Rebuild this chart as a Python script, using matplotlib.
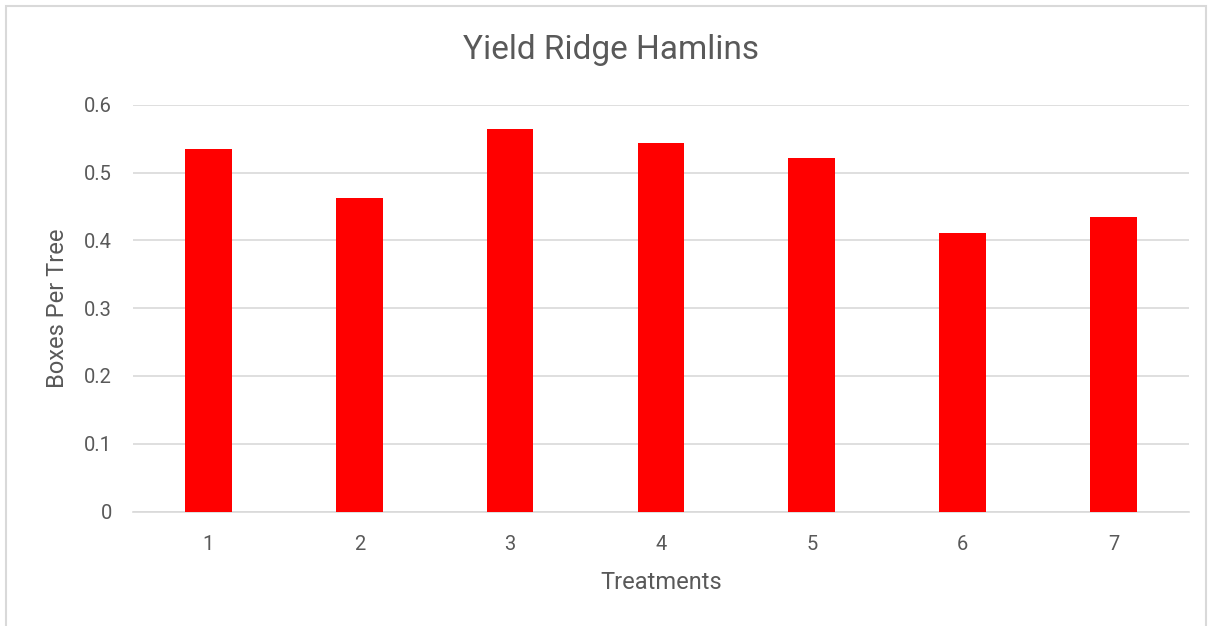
import matplotlib
matplotlib.use("Agg")
import matplotlib.pyplot as plt
from matplotlib.patches import Rectangle

treatments = ["1", "2", "3", "4", "5", "6", "7"]
boxes_per_tree = [0.535, 0.462, 0.564, 0.544, 0.522, 0.411, 0.435]
y_ticks = [0, 0.1, 0.2, 0.3, 0.4, 0.5, 0.6]

plt.rcParams['font.family'] = ['Roboto', 'DejaVu Sans']
text_color = '#595959'
grid_color = '#d9d9d9'

fig = plt.figure(figsize=(12.1, 6.26), dpi=100)
ax = fig.add_axes([0.1099, 0.1829, 0.8727, 0.6494])

x = range(len(treatments))
ax.bar(x, boxes_per_tree, width=0.31, color='#ff0000', zorder=3)

ax.set_xlim(-0.5, len(treatments) - 0.5)
ax.set_ylim(0, 0.6)
ax.set_yticks(y_ticks)
ax.set_yticklabels([f"{t:g}" for t in y_ticks])
ax.set_xticks(list(x))
ax.set_xticklabels(treatments)
ax.tick_params(axis='both', length=0, colors=text_color, labelsize=14.5)
ax.tick_params(axis='y', pad=15)
ax.tick_params(axis='x', pad=17)

ax.grid(axis='y', color=grid_color, linewidth=1.2, zorder=0)
for side in ['top', 'right', 'left']:
    ax.spines[side].set_visible(False)
ax.spines['bottom'].set_color(grid_color)
ax.spines['bottom'].set_linewidth(1.2)

ax.set_xlabel("Treatments", fontsize=17, color=text_color, labelpad=12)
ax.set_ylabel("Boxes Per Tree", fontsize=17, color=text_color, labelpad=11)
fig.text(0.5048, 0.9053, "Yield Ridge Hamlins", ha='center', va='baseline',
         fontsize=24, color=text_color)

# outer chart border
fig.patches.append(Rectangle((6 / 1210, -0.01), 1200 / 1210, 1 - 6 / 626 + 0.01,
                             transform=fig.transFigure, fill=False,
                             edgecolor=grid_color, linewidth=1.5))

fig.savefig("out.png", dpi=100)
